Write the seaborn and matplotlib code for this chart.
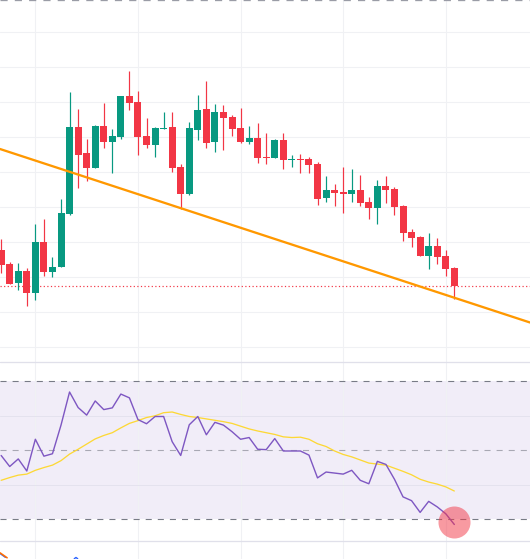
import numpy as np
import pandas as pd
import matplotlib
matplotlib.use("Agg")
import matplotlib.pyplot as plt
import seaborn as sns

# ---- candle data (price units) ----
highs = [161,138,137,132,176,181,143,201,308,291,261,275,297,271,304,329,309,282,273,288,288,236,278,305,319,296,295,285,292,274,277,
         267,261,267,245,246,243,238,224,216,233,231,225,203,220,224,213,195,171,164,167,162,150,133]
tops = [150,136,129,129,158,158,133,187,273,273,247,274,274,264,304,304,298,264,272,272,273,233,272,290,291,288,288,283,272,262,262,
        243,260,260,241,241,241,236,210,210,208,210,210,198,214,214,211,194,168,163,154,154,144,132]
bottoms = [135,116,117,107,107,128,128,133,186,245,232,232,258,258,263,297,263,255,255,271,232,206,206,270,257,258,282,271,258,258,242,
           242,242,240,240,240,235,201,202,207,206,206,197,192,192,210,193,167,162,144,144,143,131,114]
lows = [127,116,110,94,100,124,123,133,185,212,219,232,252,227,261,290,245,252,243,271,228,191,205,260,252,248,250,264,257,256,237,
        236,242,231,233,227,227,195,198,194,187,198,194,181,176,197,185,159,153,144,131,136,124,101]
is_up = [0,0,1,0,1,0,1,1,1,0,0,1,0,1,1,0,0,0,1,1,0,0,1,1,0,1,0,0,0,1,0,
         0,1,0,1,0,0,0,1,0,0,1,0,0,1,0,0,0,0,0,1,0,0,0]

last_price = [114.5]
trend_index = [-0.135, 61.85]
trend_price = [251, 77.5]

price_grid = [53.5, 88.5, 123.5, 158.5, 193.5, 228.5, 263.5, 298.5, 333.5, 368.5]
time_grid = [4, 16, 28, 40, 52]

rsi = [48.5,45.3,47.5,44.0,53.2,48.3,49.0,57.3,66.9,62.4,60.2,64.3,61.8,62.3,66.3,65.2,58.9,57.7,59.8,59.8,52.5,48.5,57.4,59.8,54.5,58.1,57.3,55.4,53.2,53.7,50.3,50.2,
       53.4,49.8,49.8,49.8,48.6,42.0,43.7,43.4,43.1,44.2,41.3,40.3,46.8,45.9,41.6,36.5,35.4,32.0,35.2,33.6,31.6,28.5]
rsi_ma = [41.3,42.1,42.8,43.1,44.2,45.0,45.7,47.0,48.9,50.3,51.8,53.3,54.3,55.1,56.5,57.8,58.6,59.5,60.0,60.9,61.1,60.4,59.8,59.5,59.1,58.7,58.3,57.8,57.0,56.2,55.6,55.1,
          54.6,53.9,53.7,53.8,53.2,51.9,51.1,49.8,48.8,48.1,47.2,46.3,46.0,45.7,44.8,43.9,42.9,41.6,40.8,40.2,39.4,38.2]
rsi_levels = [30, 50, 70]
rsi_grid = [40, 60]
marker_index = [53]
marker_rsi = [29.2]

low_orange_x = [-0.135, 0.7]
low_orange_y = [5.7, 0.7]
low_blue_x = [-0.135, 0.5]
low_blue_y = [4.9, 1.0]
low_blue2_x = [8.55, 8.75, 8.95]
low_blue2_y = [-0.2, 1.0, -0.2]

# ---- style ----
sns.set_theme(style="white")
GREEN, RED = "#089981", "#f23645"
GRID = "#f0f1f4"
PX = 0.72  # one pixel in points at 100 dpi
W, H = 530, 559
XLIM = (-0.135, 61.85)

fig = plt.figure(figsize=(5.3, 5.59), dpi=100)
def pane(top, bottom):
    ax = fig.add_axes([0, 1 - bottom / H, 1, (bottom - top) / H])
    ax.set_xlim(*XLIM)
    ax.set_xticks(time_grid)
    ax.set_xticklabels([])
    ax.set_yticklabels([])
    ax.tick_params(length=0)
    ax.grid(axis="x", color=GRID, lw=1.1 * PX)
    for s in ax.spines.values():
        s.set_visible(False)
    ax.set_axisbelow(True)
    return ax

ax = pane(0, 362.3)
ax.set_ylim(37.7, 400)
ax.set_yticks(price_grid)
ax.set_yticklabels([])
ax.grid(axis="y", color=GRID, lw=1.1 * PX)

df = pd.DataFrame({"i": np.arange(len(highs)), "h": highs, "t": tops, "b": bottoms, "l": lows, "up": is_up})
colors = [GREEN if u else RED for u in df["up"]]
ax.vlines(df["i"], df["l"], df["h"], colors=colors, lw=1.2 * PX, zorder=3)
ax.bar(df["i"], df["t"] - df["b"], bottom=df["b"], width=0.82, color=colors, lw=0, zorder=3)
sns.lineplot(x=trend_index, y=trend_price, color="#ff9800", lw=2.3 * PX, ax=ax, zorder=4)
ax.axhline(last_price[0], color=RED, lw=1.2 * PX, ls=(0, (1, 2)), zorder=2)
ax.axhline(399.6, color="#9a9ca6", lw=1.3 * PX, ls=(0, (5.5, 5.5)), zorder=2)
ax.set_xlabel(""); ax.set_ylabel("")

# RSI pane
rx = pane(362.3, 540.5)
y_of = lambda px: 50 + (450.3 - px) / 3.45
rx.set_ylim(y_of(540.5), y_of(362.3))
rx.set_yticks(rsi_grid)
rx.set_yticklabels([])
rx.grid(axis="y", color="#e4e2ee", lw=1 * PX)
rx.axhspan(rsi_levels[0], rsi_levels[2], color="#7e57c2", alpha=0.1, lw=0, zorder=0)
rx.axhline(rsi_levels[0], color="#787b86", lw=1.1 * PX, ls=(0, (5.5, 5.5)), zorder=2)
rx.axhline(rsi_levels[2], color="#787b86", lw=1.1 * PX, ls=(0, (5.5, 5.5)), zorder=2)
rx.axhline(rsi_levels[1], color="#787b86", lw=1.1 * PX, alpha=0.6, ls=(0, (5.5, 5.5)), zorder=2)
idx = np.arange(len(rsi))
sns.lineplot(x=idx, y=rsi_ma, color="#fdd835", lw=1.3 * PX, ax=rx, zorder=3)
sns.lineplot(x=idx, y=rsi, color="#7e57c2", lw=1.4 * PX, ax=rx, zorder=4)
sns.scatterplot(x=marker_index, y=marker_rsi, s=(32 * PX) ** 2, color=RED, alpha=0.5, lw=0, ax=rx, zorder=5, clip_on=False)
rx.set_xlabel(""); rx.set_ylabel("")

# bottom pane
bx = pane(540.5, 559)
bx.set_ylim(-0.5, 18)
sns.lineplot(x=low_blue_x, y=low_blue_y, color="#2962ff", lw=1.2 * PX, ax=bx)
sns.lineplot(x=low_orange_x, y=low_orange_y, color="#ff6d00", lw=1.6 * PX, ax=bx)
sns.lineplot(x=low_blue2_x, y=low_blue2_y, color="#2962ff", lw=1.4 * PX, ax=bx)
bx.set_xlabel(""); bx.set_ylabel("")

# pane dividers
for y_px in (362.3, 540.5):
    fig.add_artist(plt.Line2D([0, 1], [1 - y_px / H] * 2, color="#e0e0ea", lw=1.3 * PX, zorder=10))

fig.savefig("out.png", dpi=100)
